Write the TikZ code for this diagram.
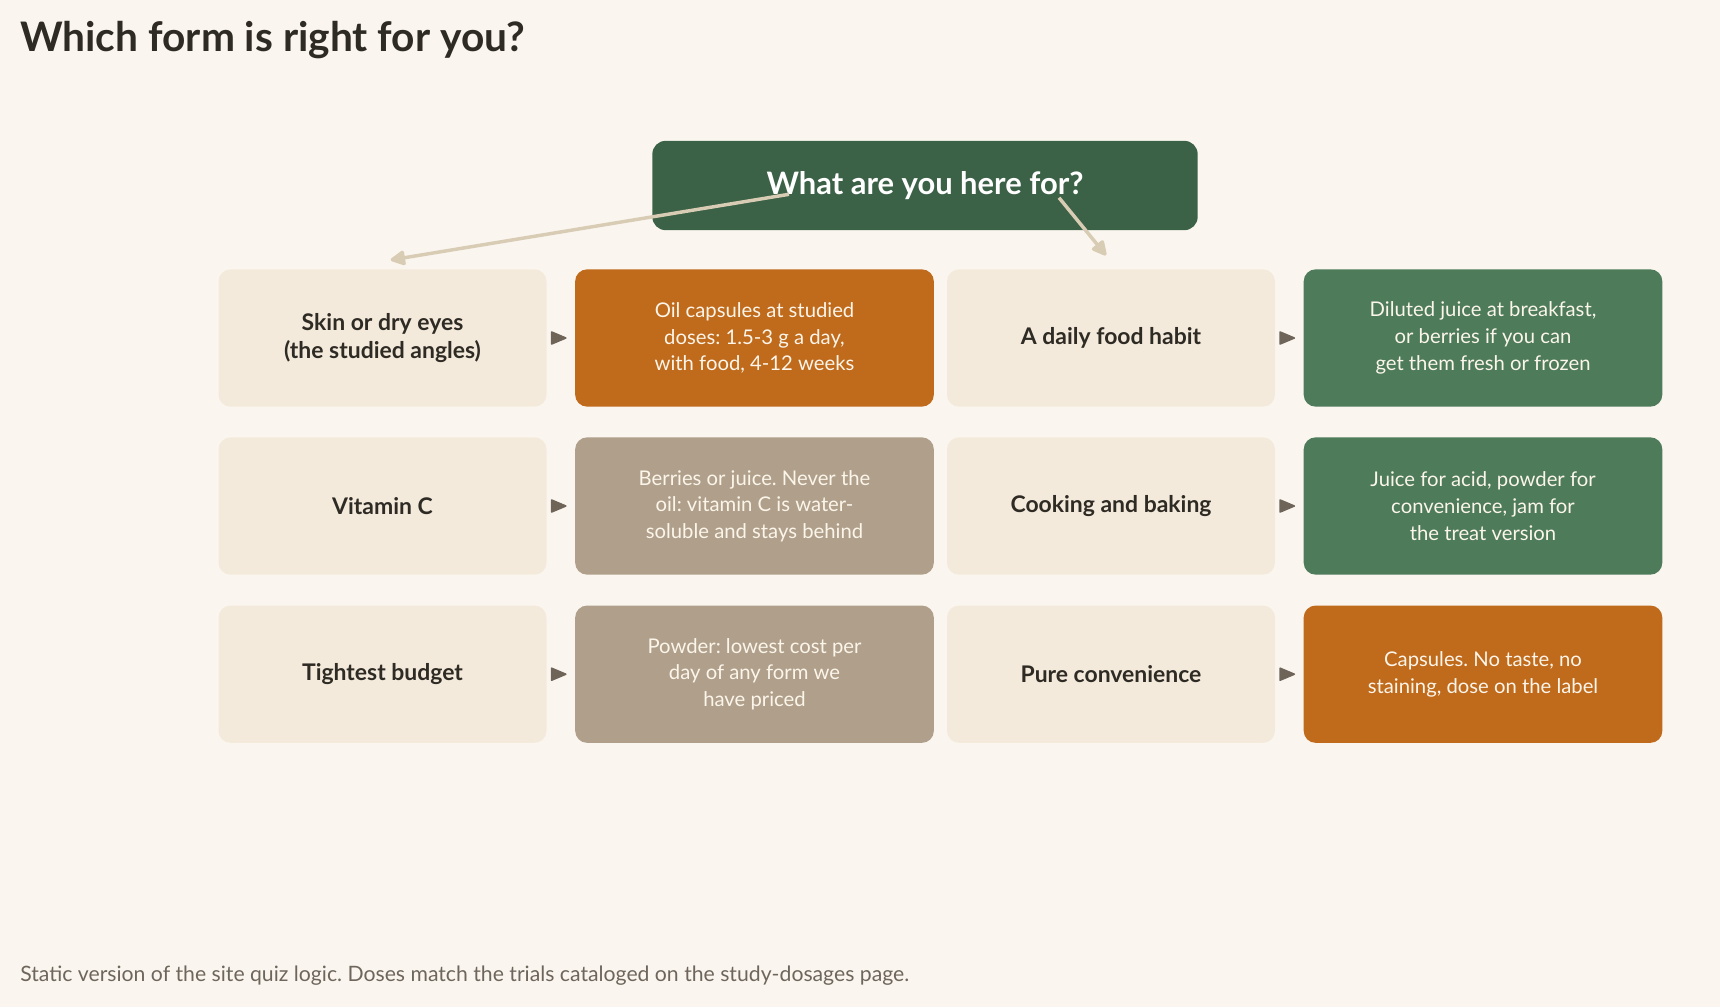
\documentclass[tikz,border=0pt]{standalone}
\usepackage{fontspec}
\setmainfont{Lato}
\usetikzlibrary{arrows.meta,calc}
\definecolor{bgc}{HTML}{FAF6EF}
\definecolor{qbox}{HTML}{F3EADB}
\definecolor{orangec}{HTML}{C06A1C}
\definecolor{taupec}{HTML}{B0A08B}
\definecolor{greenc}{HTML}{4E7B5A}
\definecolor{hdrc}{HTML}{3B6147}
\definecolor{bigarr}{HTML}{D9CCB4}
\definecolor{smallarr}{HTML}{6E6458}
\definecolor{darktext}{HTML}{2E2A24}
\definecolor{foottext}{HTML}{6E665C}
\definecolor{lighttext}{HTML}{FBF5EA}
\frenchspacing
\tikzset{
  qstyle/.style={rounded corners=9pt, fill=qbox, minimum width=246pt, minimum height=103pt, inner sep=0pt,
    align=center, text=darktext, font=\bfseries\fontsize{17.2}{21}\selectfont},
  astyle/.style={rounded corners=9pt, minimum width=269pt, minimum height=103pt, inner sep=0pt,
    align=center, text=lighttext, font=\fontsize{15.2}{20}\selectfont},
  hdrstyle/.style={rounded corners=10pt, fill=hdrc, minimum width=409pt, minimum height=67pt, inner sep=0pt,
    text=white, font=\bfseries\fontsize{23.2}{28}\selectfont},
  bigarrow/.style={draw=bigarr, line width=2.6pt, -{Triangle[length=12.5pt,width=12pt,round]}},
  smalltip/.style={fill=smallarr, draw=smallarr, line width=1.2pt, line join=round},
}
\begin{document}
\begin{tikzpicture}[x=0.75pt,y=-0.75pt]
\useasboundingbox[fill=bgc] (0,0) rectangle (1720,1007);
\node[anchor=base west, text=darktext, font=\bfseries\fontsize{30.5}{36}\selectfont, inner sep=0pt] (title) at (20,51) {Which form is right for you?};
\node[anchor=base west, text=foottext, font=\fontsize{15.9}{20}\selectfont, inner sep=0pt] (foot) at (20,981.7) {Static version of the site quiz logic. Doses match the trials cataloged on the study-dosages page.};

\node[hdrstyle] (hdr) at (925,185.5) {What are you here for?};

\node[qstyle] (q1) at (382.5,338) {Skin or dry eyes\\(the studied angles)};
\node[astyle, fill=orangec] (a1) at (754.5,338) {Oil capsules at studied\\doses: 1.5-3 g a day,\\with food, 4-12 weeks};
\node[qstyle] (q2) at (1111,338) {A daily food habit};
\node[astyle, fill=greenc] (a2) at (1483,338) {Diluted juice at breakfast,\\or berries if you can\\get them fresh or frozen};

\node[qstyle] (q3) at (382.5,506) {Vitamin C};
\node[astyle, fill=taupec] (a3) at (754.5,506) {Berries or juice. Never the\\oil: vitamin C is water-\\soluble and stays behind};
\node[qstyle] (q4) at (1111,506) {Cooking and baking};
\node[astyle, fill=greenc] (a4) at (1483,506) {Juice for acid, powder for\\convenience, jam for\\the treat version};

\node[qstyle] (q5) at (382.5,674.2) {Tightest budget};
\node[astyle, fill=taupec] (a5) at (754.5,674.2) {Powder: lowest cost per\\day of any form we\\have priced};
\node[qstyle] (q6) at (1111,674.2) {Pure convenience};
\node[astyle, fill=orangec] (a6) at (1483,674.2) {Capsules. No taste, no\\staining, dose on the label};

\foreach \q/\a in {q1/a1,q2/a2,q3/a3,q4/a4,q5/a5,q6/a6}
  \path[smalltip] ($(\q.east)+(4.8,-6)$) -- ($(\q.east)+(19,0)$) -- ($(\q.east)+(4.8,6)$) -- cycle;

\coordinate (s1) at (789,194.3);
\coordinate (e1) at (390.7,260);
\coordinate (s2) at (1059,197.7);
\coordinate (e2) at (1106,255.3);
\draw[bigarrow] (s1) -- (e1);
\draw[bigarrow] (s2) -- (e2);
\end{tikzpicture}
\end{document}
